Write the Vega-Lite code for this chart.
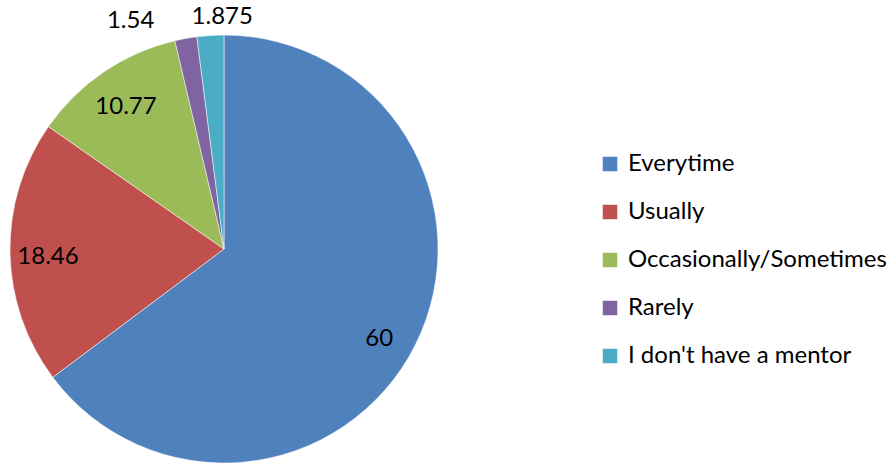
{
  "$schema": "https://vega.github.io/schema/vega-lite/v6.json",
  "width": 428,
  "height": 428,
  "autosize": {"type": "none"},
  "padding": {"left": 10, "top": 35, "right": 452, "bottom": 0},
  "background": "white",
  "config": {"view": {"stroke": null}, "font": "Lato"},
  "data": {
    "values": [
      {"category": "Everytime", "value": 60},
      {"category": "Usually", "value": 18.46},
      {"category": "Occasionally/Sometimes", "value": 10.77},
      {"category": "Rarely", "value": 1.54},
      {"category": "I don't have a mentor", "value": 1.875}
    ]
  },
  "transform": [{"window": [{"op": "row_number", "as": "rank"}]}],
  "encoding": {
    "theta": {"field": "value", "type": "quantitative", "stack": true},
    "order": {"field": "rank", "type": "quantitative"},
    "color": {
      "field": "category",
      "type": "nominal",
      "sort": null,
      "scale": {
        "domain": ["Everytime", "Usually", "Occasionally/Sometimes", "Rarely", "I don't have a mentor"],
        "range": ["#4F81BD", "#C0504D", "#9BBB59", "#8064A2", "#4BACC6"]
      },
      "legend": {
        "title": null,
        "orient": "none",
        "legendX": 588,
        "legendY": 117,
        "padding": 0,
        "symbolType": "square",
        "symbolSize": 210,
        "symbolStrokeWidth": 0,
        "labelFontSize": 24,
        "labelFont": "Lato",
        "labelColor": "#000000",
        "labelOffset": 6,
        "rowPadding": 24,
        "labelLimit": 400
      }
    }
  },
  "layer": [
    {"mark": {"type": "arc", "outerRadius": 214, "stroke": "white", "strokeWidth": 0.5}},
    {
      "mark": {
        "type": "text",
        "fontSize": 24,
        "font": "Lato",
        "color": "black",
        "radius": {"expr": "datum.value < 5 ? 232 : 178"},
        "dx": {"expr": "datum.category == 'Rarely' ? -52 : (datum.category == \"I don't have a mentor\" ? 13 : (datum.value > 50 ? -4 : 2))"},
        "dy": {"expr": "datum.value < 5 ? 0 : (datum.value > 50 ? 10 : 5)"}
      },
      "encoding": {
        "text": {"field": "value", "type": "quantitative"},
        "color": {"value": "black"}
      }
    }
  ]
}
